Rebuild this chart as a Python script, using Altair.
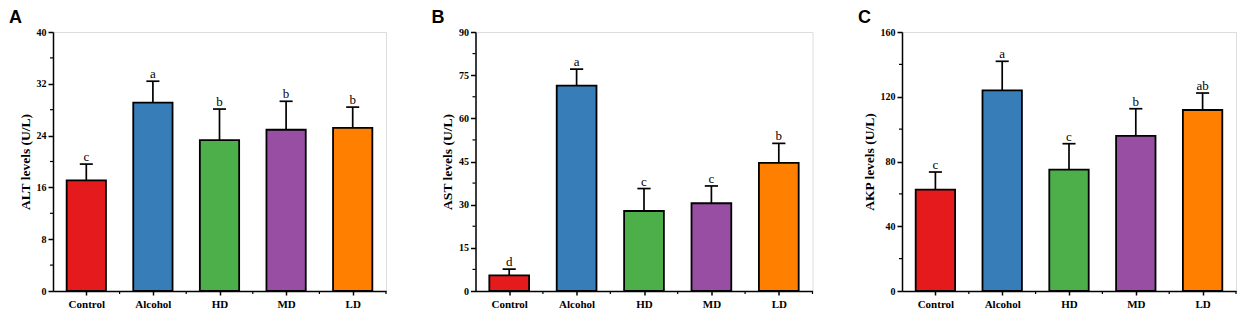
import altair as alt
import pandas as pd

categories = ["Control", "Alcohol", "HD", "MD", "LD"]
colors = ["#E41A1C", "#377EB8", "#4DAF4A", "#984EA3", "#FF7F00"]

panel_letters = ["A", "B", "C"]
y_titles = ["ALT levels (U/L)", "AST levels (U/L)", "AKP levels (U/L)"]
y_max = [40, 90, 160]
y_step = [8, 15, 40]
panel_widths = [333, 337, 334]

alt_mean = [17.1, 29.1, 23.3, 24.9, 25.2]
alt_top = [19.6, 32.4, 28.1, 29.3, 28.4]
alt_sig = ["c", "a", "b", "b", "b"]

ast_mean = [5.4, 71.4, 27.8, 30.5, 44.5]
ast_top = [7.6, 77.1, 35.6, 36.5, 51.3]
ast_sig = ["d", "a", "c", "c", "b"]

akp_mean = [62.6, 124.0, 75.0, 95.8, 111.8]
akp_top = [73.5, 141.9, 91.0, 112.6, 122.3]
akp_sig = ["c", "a", "c", "b", "ab"]

H = 259
SERIF = "Liberation Serif"
SANS = "Liberation Sans"

label_expr = "[" + ",".join("'%s'" % c for c in categories) + "][datum.value]"


def panel(letter, title, ymax, ystep, means, tops, sigs, width):
    df = pd.DataFrame({
        "cat": categories,
        "idx": list(range(len(categories))),
        "mean": means,
        "top": tops,
        "sig": sigs,
    })
    xs = alt.Scale(domain=[-0.5, len(categories) - 0.5], nice=False, zero=False)
    ys = alt.Scale(domain=[0, ymax], nice=False)
    xax = alt.Axis(
        values=list(range(len(categories))), labelExpr=label_expr,
        title=None, grid=False, domainColor="black", domainWidth=1.5,
        tickColor="black", tickWidth=1.5, tickSize=4,
        labelFont=SERIF, labelFontWeight="bold", labelFontSize=11,
        labelColor="black", labelPadding=3)
    yax = alt.Axis(
        values=list(range(0, ymax + 1, ystep)), title=title, grid=False,
        domainColor="black", domainWidth=1.5, tickColor="black",
        tickWidth=1.5, tickSize=5, labelFont=SERIF, labelFontWeight="bold",
        labelFontSize=10, labelColor="black", labelPadding=2,
        titleFont=SERIF, titleFontWeight="bold", titleFontSize=13.5,
        titleColor="black", titlePadding=4)
    base = alt.Chart(df).transform_calculate(
        x1="datum.idx - 0.295", x2="datum.idx + 0.295",
        c1="datum.idx - 0.098", c2="datum.idx + 0.098",
    )
    bars = base.mark_bar(stroke="black", strokeWidth=1.8).encode(
        x=alt.X("x1:Q", scale=xs, axis=xax),
        x2="x2:Q",
        y=alt.Y("mean:Q", scale=ys, axis=yax),
        y2=alt.datum(0),
        color=alt.Color("cat:N", scale=alt.Scale(domain=categories, range=colors), legend=None),
    )
    err = base.mark_rule(color="black", strokeWidth=1.7).encode(
        x=alt.X("idx:Q", scale=xs, axis=xax),
        y=alt.Y("mean:Q", scale=ys, axis=yax),
        y2="top:Q",
    )
    cap = base.mark_rule(color="black", strokeWidth=1.7).encode(
        x=alt.X("c1:Q", scale=xs, axis=xax),
        x2="c2:Q",
        y=alt.Y("top:Q", scale=ys, axis=yax),
    )
    txt = base.mark_text(font=SERIF, fontSize=13, baseline="alphabetic", dy=-3,
                         color="black").encode(
        x=alt.X("idx:Q", scale=xs, axis=xax),
        y=alt.Y("top:Q", scale=ys, axis=yax),
        text="sig:N",
    )
    yminor = pd.DataFrame({"v": [v + ystep / 2 for v in range(0, ymax, ystep)]})
    ymin_rules = alt.Chart(yminor).mark_rule(color="black", strokeWidth=1.2).encode(
        y=alt.Y("v:Q", scale=ys, axis=yax),
        x=alt.value(-3), x2=alt.value(0),
    )
    xminor = pd.DataFrame({"v": [i + 0.5 for i in range(len(categories))]})
    xmin_rules = alt.Chart(xminor).mark_rule(color="black", strokeWidth=1.2).encode(
        x=alt.X("v:Q", scale=xs, axis=xax),
        y=alt.value(H), y2=alt.value(H + 3),
    )
    lab = alt.Chart(pd.DataFrame({"p": [letter]})).mark_text(
        font=SANS, fontWeight="bold", fontSize=18, align="left",
        baseline="alphabetic", color="black").encode(
        x=alt.value(-44), y=alt.value(-9), text="p:N")
    return alt.layer(bars, err, cap, txt, ymin_rules, xmin_rules, lab).properties(
        width=width, height=H)


pA = panel(panel_letters[0], y_titles[0], y_max[0], y_step[0], alt_mean, alt_top, alt_sig, panel_widths[0])
pB = panel(panel_letters[1], y_titles[1], y_max[1], y_step[1], ast_mean, ast_top, ast_sig, panel_widths[1])
pC = panel(panel_letters[2], y_titles[2], y_max[2], y_step[2], akp_mean, akp_top, akp_sig, panel_widths[2])

chart = alt.hconcat(pA, pB, pC, spacing=89.5, bounds="flush").properties(
    padding={"left": 0, "top": 0, "right": 0, "bottom": 0}
).configure_view(strokeWidth=0).configure(background="white")

chart.save("out.html", embed_options={"renderer": "svg", "actions": False})
